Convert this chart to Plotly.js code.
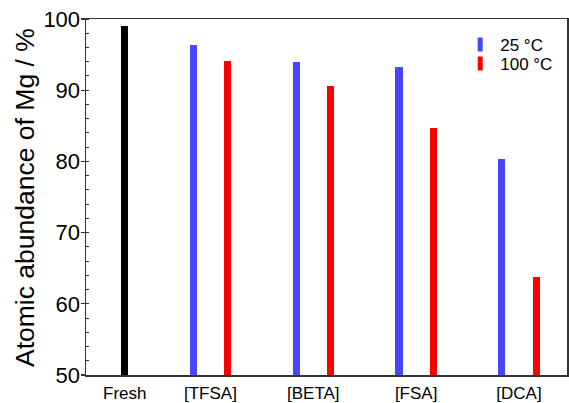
<!DOCTYPE html>
<html>
<head>
<meta charset="utf-8">
<script src="https://cdn.plot.ly/plotly-3.0.1.min.js"></script>
<style>html,body{margin:0;padding:0;background:#fff;}#chart{width:569px;height:403px;}</style>
</head>
<body>
<div id="chart"></div>
<script>
// Data
const groups = ["[TFSA]", "[BETA]", "[FSA]", "[DCA]"];
const freshLabel = "Fresh";
const freshValue = [99.0];
const values25 = [96.4, 94.0, 93.2, 80.3];
const values100 = [94.1, 90.6, 84.7, 63.7];
const seriesNames = ["25 °C", "100 °C"];
const yTitle = "Atomic abundance of Mg / %";

// Positions (slot layout: fresh at 0, groups every 3 slots)
const freshPos = [0];
const pos25 = groups.map((g, i) => 2 + 3 * i);
const pos100 = groups.map((g, i) => 3 + 3 * i);
const tickPos = [0].concat(groups.map((g, i) => 2.5 + 3 * i));
const tickText = [freshLabel].concat(groups);

const BLUE = "#4646ff";
const RED = "#ff0000";
const BARW = 0.21;

const traces = [
  {type: "bar", x: freshPos, y: freshValue, width: BARW, marker: {color: "#000000"}, showlegend: false, hoverinfo: "skip"},
  {type: "bar", x: pos25, y: values25, width: BARW, marker: {color: BLUE}, showlegend: false, name: seriesNames[0]},
  {type: "bar", x: pos100, y: values100, width: BARW, marker: {color: RED}, showlegend: false, name: seriesNames[1]},
  {type: "scatter", mode: "markers", x: [null], y: [null], name: seriesNames[0], legend: "legend",
   marker: {symbol: "line-ns", size: 10, line: {width: 6, color: BLUE}}},
  {type: "scatter", mode: "markers", x: [null], y: [null], name: seriesNames[1], legend: "legend2",
   marker: {symbol: "line-ns", size: 10, line: {width: 6, color: RED}}}
];

const legendBase = {
  xanchor: "left", yanchor: "top",
  bgcolor: "rgba(0,0,0,0)", font: {size: 17}, itemwidth: 30
};

const layout = {
  width: 569, height: 403,
  margin: {l: 86, r: 2, t: 19, b: 28, pad: 0},
  paper_bgcolor: "#ffffff", plot_bgcolor: "#ffffff",
  font: {family: "Liberation Sans, Arial, sans-serif", color: "#000"},
  bargap: 0,
  xaxis: {
    range: [-1.13, 12.9], tickvals: tickPos, ticktext: tickText,
    ticks: "", showgrid: false, zeroline: false,
    showline: true, linecolor: "#333", linewidth: 1.5, mirror: true,
    tickfont: {size: 17}, ticklabelstandoff: 2, automargin: false
  },
  yaxis: {
    range: [50, 100], dtick: 10, tick0: 50,
    ticks: "outside", ticklen: 4, tickwidth: 1.2, tickcolor: "#333",
    minor: {dtick: 2, ticks: "inside", ticklen: 3, tickcolor: "#333", tickwidth: 1},
    showgrid: false, zeroline: false,
    showline: true, linecolor: "#333", linewidth: 1.5, mirror: true,
    tickfont: {size: 22}, ticklabelstandoff: -4,
    automargin: false
  },
  annotations: [{
    text: yTitle, textangle: -90, showarrow: false,
    xref: "paper", yref: "paper", x: 0, y: 0.5, xanchor: "center", yanchor: "middle",
    xshift: -61, yshift: -1, font: {size: 26.5}
  }],
  legend: Object.assign({x: 0.778, y: 0.978}, legendBase),
  legend2: Object.assign({x: 0.778, y: 0.924}, legendBase),
  showlegend: true
};

Plotly.newPlot("chart", traces, layout, {displayModeBar: false, staticPlot: true});
</script>
</body>
</html>
